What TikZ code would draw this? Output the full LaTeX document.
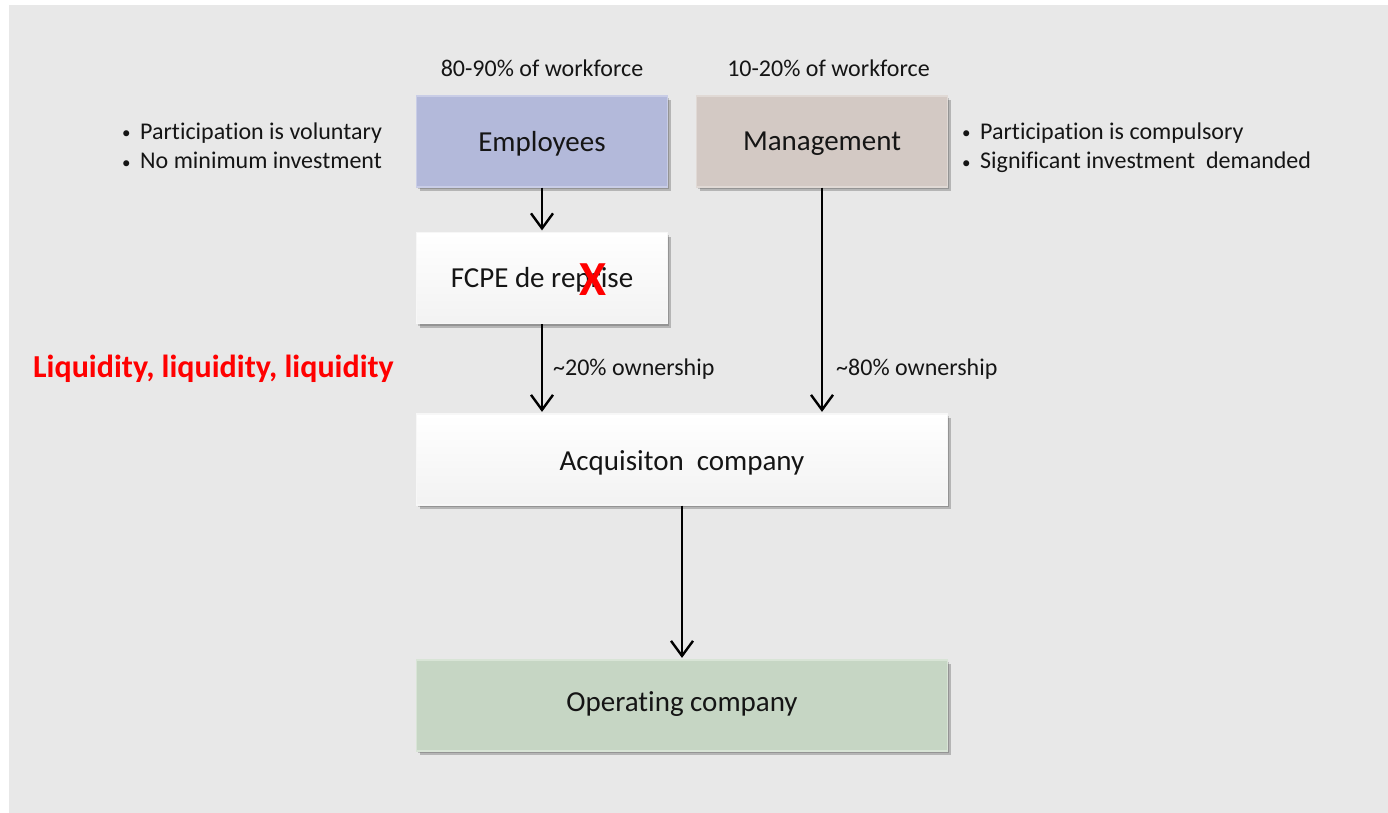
\documentclass[tikz,border=0pt]{standalone}
\usepackage{fontspec}
\setmainfont{Carlito}[Ligatures={NoCommon}]
\usetikzlibrary{arrows.meta,shadows,positioning}

\definecolor{panel}{HTML}{E8E8E8}
\definecolor{empfill}{HTML}{B3B9DA}
\definecolor{empline}{HTML}{C9CDE6}
\definecolor{mgtfill}{HTML}{D3C9C4}
\definecolor{mgtline}{HTML}{E0D9D5}
\definecolor{opfill}{HTML}{C6D6C4}
\definecolor{opline}{HTML}{D8E4D6}
\definecolor{txt}{HTML}{151515}
\definecolor{alert}{HTML}{FF0000}

\newcommand\bxfont{\fontsize{29}{34}\selectfont}
\newcommand\smfont{\fontsize{24}{29}\selectfont}
\newcommand\bul{\makebox[18pt][l]{\raisebox{1pt}{\fontsize{17}{17}\selectfont•}}}
% move a label up or down without changing the size of its node
\newcommand\nudge[2]{\raisebox{#1}[\height][\depth]{#2}}

\tikzset{
  box/.style={draw=#1, line width=1.2pt, inner sep=0pt, text=txt, font=\bxfont,
    drop shadow={shadow xshift=3pt, shadow yshift=-4pt, opacity=0.22, fill=black},
    drop shadow={shadow xshift=1.5pt, shadow yshift=-2pt, opacity=0.18, fill=black}},
  narrow/.style={minimum width=251pt, minimum height=91pt},
  wide/.style={minimum width=531pt, minimum height=91pt},
  whitebox/.style={box=white!97!black, top color=white, bottom color=panel!55!white},
  note/.style={font=\smfont, text=txt, inner sep=0pt},
  line/.style={note, anchor=base west},
  arr/.style={draw=black, line width=2.5pt,
    -{Straight Barb[length=15pt, width=22pt, line width=2.4pt]}, shorten >=1.5pt},
}

\begin{document}
\begin{tikzpicture}[x=1pt, y=-1pt]
  \useasboundingbox (0,0) rectangle (1388,813);
  \fill[white] (0,0) rectangle (1388,813);
  \fill[panel] (9,5) rectangle (1388,813);

  % boxes
  \node[box=empline, fill=empfill, narrow] (emp) at (542,141.5) {\nudge{-2pt}{Employees}};
  \node[box=mgtline, fill=mgtfill, narrow] (mgt) at (822,141.5) {\nudge{-2pt}{Management}};
  \node[whitebox, narrow] (fcpe) at (542,278) {\nudge{-2pt}{FCPE de reprise}};
  \node[text=alert, font=\fontsize{49}{49}\selectfont\bfseries, inner sep=0pt] (cross) at (593,280) {X};
  \node[whitebox, wide] (acq) at (682,459.5) {\nudge{-3pt}{Acquisiton\ \ company}};
  \node[box=opline, fill=opfill, wide] (op) at (682,705.5) {\nudge{1pt}{Operating company}};

  % headcount notes
  \node[note] (empshare) at (542,68) {80-90\% of workforce};
  \node[note] (mgtshare) at (828.5,68) {10-20\% of workforce};

  % participation terms
  \node[line] (emp1) at (122,140) {\bul Participation is voluntary};
  \node[line] (emp2) at (122,169) {\bul No minimum investment};
  \node[line] (mgt1) at (962,140) {\bul Participation is compulsory};
  \node[line] (mgt2) at (962,169) {\bul Significant investment\ \ demanded};

  % ownership flows
  \draw[arr] (emp.south) -- (fcpe.north);
  \draw[arr] (fcpe.south) -- (fcpe.south |- acq.north);
  \draw[arr] (mgt.south) -- (mgt.south |- acq.north);
  \draw[arr] (acq.south) -- (op.north);

  \node[note, anchor=west] (empown) at (553,369) {\textasciitilde20\% ownership};
  \node[note, anchor=west] (mgtown) at (836,369) {\textasciitilde80\% ownership};

  \node[text=alert, font=\fontsize{32}{34}\selectfont\bfseries, anchor=west, inner sep=0pt]
    (liq) at (33,369) {Liquidity, liquidity, liquidity};
\end{tikzpicture}
\end{document}
